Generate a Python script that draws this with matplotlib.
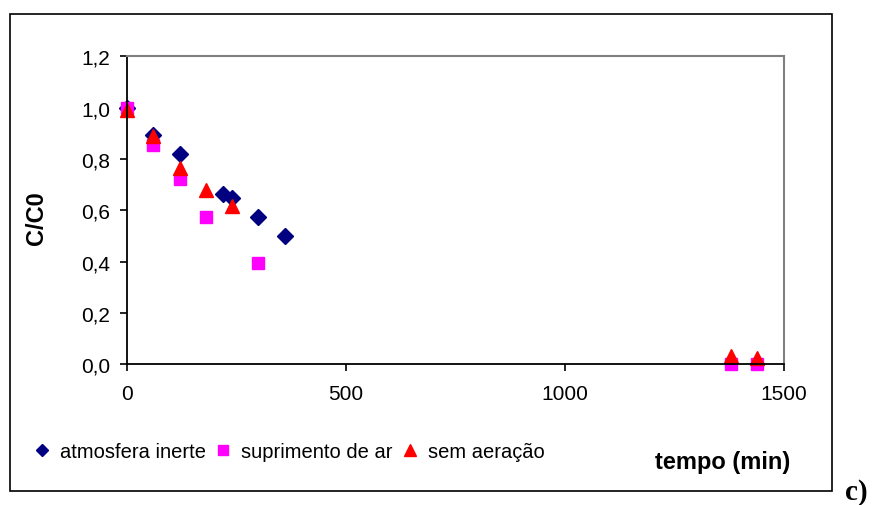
import matplotlib as mpl
mpl.use('Agg')
import matplotlib.pyplot as plt
from matplotlib.patches import Rectangle
from matplotlib.ticker import FuncFormatter

plt.rcParams['font.family'] = ['Liberation Sans', 'DejaVu Sans']

# tempo (min) x C/C0 for each aeration condition
t_inerte = [0, 60, 120, 220, 240, 300, 360]
c_inerte = [1.0, 0.895, 0.822, 0.665, 0.650, 0.575, 0.500]

t_ar = [0, 60, 120, 180, 300, 1380, 1440]
c_ar = [1.0, 0.855, 0.722, 0.575, 0.395, 0.0, 0.0]

t_sem = [0, 60, 120, 180, 240, 1380, 1440]
c_sem = [0.99, 0.89, 0.765, 0.678, 0.618, 0.032, 0.024]

xticks = [0, 500, 1000, 1500]
yticks = [0.0, 0.2, 0.4, 0.6, 0.8, 1.0, 1.2]

fig = plt.figure(figsize=(8.73, 5.06), dpi=100)
ax = fig.add_axes([0.1455, 0.2777, 0.752, 0.6087])

ax.plot(t_inerte, c_inerte, ls='none', marker='D', ms=8, color='#000080',
        label='atmosfera inerte', clip_on=False)
ax.plot(t_ar, c_ar, ls='none', marker='s', ms=9, color='#ff00ff',
        label='suprimento de ar', clip_on=False)
ax.plot(t_sem, c_sem, ls='none', marker='^', ms=10, color='#ff0000',
        label='sem aeração', clip_on=False)

ax.set_xlim(0, 1500)
ax.set_ylim(0, 1.2)
ax.set_xticks(xticks)
ax.set_yticks(yticks)
ax.yaxis.set_major_formatter(FuncFormatter(lambda v, p: ('%.1f' % v).replace('.', ',')))
ax.tick_params(direction='out', length=5, width=1.2, labelsize=15, color='black')
ax.tick_params(axis='x', pad=9)
ax.tick_params(axis='y', pad=7)
for s in ['left', 'bottom']:
    ax.spines[s].set_color('black')
    ax.spines[s].set_linewidth(1.3)
for s in ['top', 'right']:
    ax.spines[s].set_color('#808080')
    ax.spines[s].set_linewidth(1.5)

fig.text(36 / 873, 1 - 218 / 506, 'C/C0', rotation=90, fontsize=17,
         fontweight='bold', ha='center', va='center')
fig.text(723 / 873, 1 - 463 / 506, 'tempo (min)', fontsize=17,
         fontweight='bold', ha='center', va='center')

fig.legend(loc='center left', bbox_to_anchor=(34 / 873, 1 - 453 / 506), ncol=3,
           frameon=False, fontsize=14.5, handlelength=0.8, handletextpad=0.5,
           columnspacing=0.45, borderaxespad=0, borderpad=0, markerscale=0.8)

# moldura externa
fig.patches.append(Rectangle((10 / 873, 1 - 492 / 506), 822 / 873, 477 / 506,
                             transform=fig.transFigure, fill=False,
                             edgecolor='black', linewidth=1.2))
fig.text(856 / 873, 1 - 493 / 506, 'c)', fontsize=21, fontweight='bold',
         family='Liberation Serif', ha='center', va='center')

fig.savefig('out.png', dpi=100)
